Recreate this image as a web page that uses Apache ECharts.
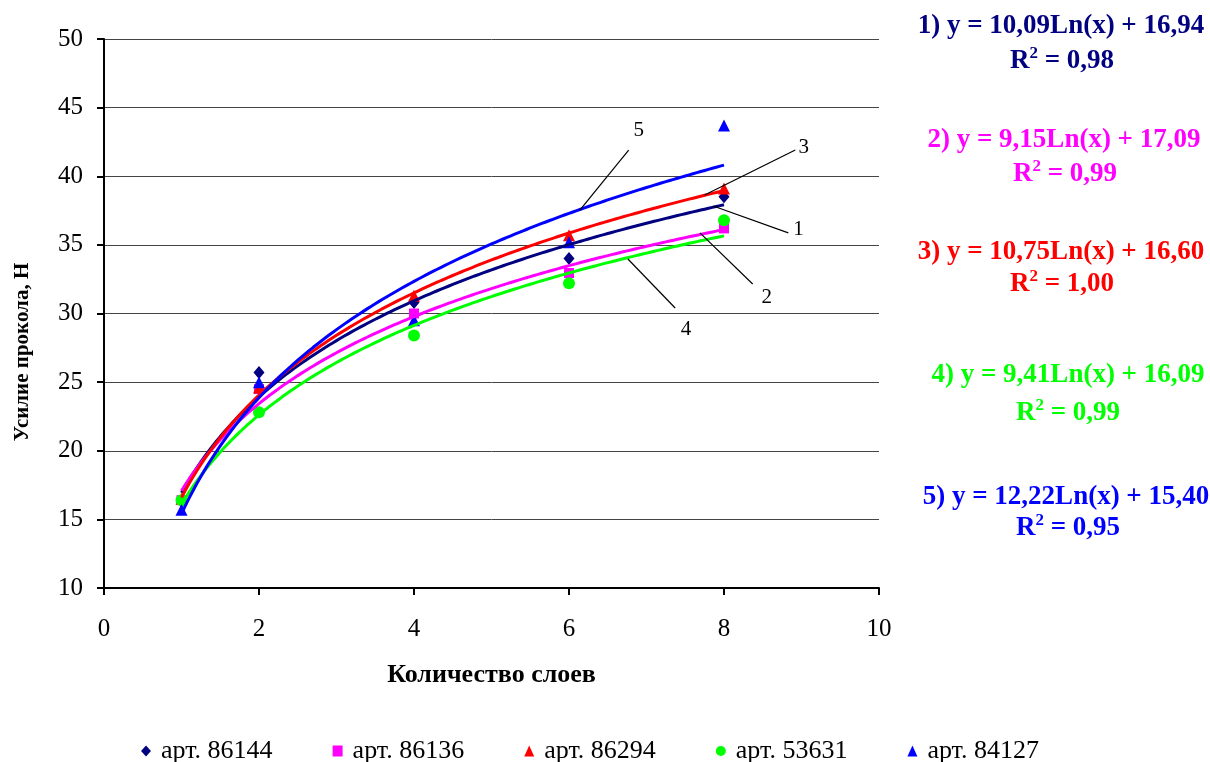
<!DOCTYPE html>
<html>
<head>
<meta charset="utf-8">
<script src="https://cdn.jsdelivr.net/npm/echarts@6/dist/echarts.min.js"></script>
<style>
  html, body { margin: 0; padding: 0; background: #fff; }
  #chart { width: 1210px; height: 762px; }
</style>
</head>
<body>
<div id="chart"></div>
<script>
// Number of layers (x) and puncture force values (y, N) for each article
const layers = [1, 2, 4, 6, 8];
const names = ['арт. 86144', 'арт. 86136', 'арт. 86294', 'арт. 53631', 'арт. 84127'];
const force86144 = [16.3, 25.7, 30.8, 34.0, 38.5];
const force86136 = [16.4, 24.5, 30.0, 32.95, 36.2];
const force86294 = [16.5, 24.6, 31.3, 35.7, 39.1];
const force53631 = [16.4, 22.8, 28.4, 32.2, 36.8];
const force84127 = [15.7, 25.0, 29.5, 35.2, 43.7];
const seriesValues = [force86144, force86136, force86294, force53631, force84127];

// Logarithmic trend lines y = a*ln(x) + b and their R^2
const trendA = [10.09, 9.15, 10.75, 9.41, 12.22];
const trendB = [16.94, 17.09, 16.60, 16.09, 15.40];
const trendR2 = ['0,98', '0,99', '1,00', '0,99', '0,95'];

const colors = ['#000080', '#ff00ff', '#ff0000', '#00ff00', '#0000ff'];
const symbols = ['diamond', 'rect', 'triangle', 'circle', 'triangle'];
const symbolSizes = [[11, 13], 10, 12, 12, 12];

const xTicks = [0, 2, 4, 6, 8, 10];
const yTicks = [10, 15, 20, 25, 30, 35, 40, 45, 50];

// Leader lines from the numeric tags to their trend curves (data space)
const leaderLines = [
  { tag: '1', from: [8.83, 35.87], to: [7.86, 37.83], text: [8.96, 36.1] },
  { tag: '2', from: [8.37, 32.15], to: [7.69, 35.87], text: [8.55, 31.2] },
  { tag: '3', from: [8.92, 41.91], to: [7.75, 38.63], text: [9.03, 42.1] },
  { tag: '4', from: [7.37, 30.40], to: [6.76, 33.97], text: [7.51, 28.8] },
  { tag: '5', from: [6.77, 41.91], to: [6.14, 37.54], text: [6.90, 43.3] }
];

const serif = '"Liberation Serif", "Times New Roman", serif';

function trendPoints(a, b) {
  const pts = [];
  for (let x = 1; x <= 8.0001; x += 0.05) {
    pts.push([x, a * Math.log(x) + b]);
  }
  return pts;
}

const series = [];
seriesValues.forEach((vals, i) => {
  series.push({
    name: names[i],
    type: 'scatter',
    data: layers.map((x, k) => [x, vals[k]]),
    symbol: symbols[i],
    symbolSize: symbolSizes[i],
    itemStyle: { color: colors[i], opacity: 1 },
    z: 3
  });
});
seriesValues.forEach((vals, i) => {
  series.push({
    name: 'trend' + (i + 1),
    type: 'line',
    data: trendPoints(trendA[i], trendB[i]),
    showSymbol: false,
    lineStyle: { color: colors[i], width: 3 },
    silent: true,
    z: 4
  });
});
series.push({
  name: 'leaders',
  type: 'line',
  data: [],
  silent: true,
  z: 5,
  markLine: {
    symbol: 'none',
    silent: true,
    animation: false,
    lineStyle: { color: '#000', width: 1.2, type: 'solid', opacity: 1 },
    label: { show: false },
    emphasis: { disabled: true },
    data: leaderLines.map(l => [{ coord: l.from }, { coord: l.to }])
  }
});
series.push({
  name: 'tags',
  type: 'scatter',
  symbolSize: 0,
  silent: true,
  z: 6,
  itemStyle: { opacity: 1 },
  data: leaderLines.map(l => ({ value: l.text, name: l.tag })),
  label: {
    show: true,
    position: 'inside',
    formatter: p => p.name,
    color: '#000',
    fontFamily: serif,
    fontSize: 21
  }
});

// Equations panel on the right
const eqY = [26, 140, 252, 375, 497];
const eqX = [1061, 1064, 1061, 1068, 1066];
const r2Y = [65, 178, 288, 417, 532];
const r2X = [1062, 1065, 1062, 1068, 1068];
const graphics = [];
trendA.forEach((a, i) => {
  const aStr = a.toFixed(2).replace('.', ',');
  const bStr = trendB[i].toFixed(2).replace('.', ',');
  graphics.push({
    type: 'text',
    x: eqX[i], y: eqY[i],
    style: {
      text: (i + 1) + ') y = ' + aStr + 'Ln(x) + ' + bStr,
      fill: colors[i],
      font: 'bold 27px ' + serif,
      align: 'center',
      verticalAlign: 'middle'
    }
  });
  graphics.push({
    type: 'text',
    x: r2X[i], y: r2Y[i] - 4,
    style: {
      align: 'center',
      verticalAlign: 'middle',
      rich: {
        r: { fill: colors[i], font: 'bold 27px ' + serif },
        s: { fill: colors[i], font: 'bold 17px ' + serif, padding: [0, 0, 14, 0] }
      },
      text: '{r|R}{s|2}{r| = ' + trendR2[i] + '}'
    }
  });
});
// Vertical axis title
graphics.push({
  type: 'text',
  x: 23, y: 352,
  rotation: Math.PI / 2,
  style: {
    text: 'Усилие прокола, Н',
    fill: '#000',
    font: 'bold 21px ' + serif,
    align: 'center',
    verticalAlign: 'middle'
  }
});

const chart = echarts.init(document.getElementById('chart'), null, { renderer: 'canvas' });
chart.setOption({
  backgroundColor: '#fff',
  animation: false,
  grid: { left: 104, right: 331, top: 39, bottom: 174, containLabel: false },
  xAxis: {
    type: 'value',
    min: xTicks[0], max: xTicks[xTicks.length - 1], interval: 2,
    name: 'Количество слоев',
    nameLocation: 'middle',
    nameGap: 74,
    nameTextStyle: { fontFamily: serif, fontSize: 26, fontWeight: 'bold', color: '#000' },
    axisLine: { lineStyle: { color: '#000', width: 2 } },
    axisTick: { show: true, inside: false, length: 7, lineStyle: { color: '#000', width: 2 } },
    axisLabel: { fontFamily: serif, fontSize: 25, color: '#000', margin: 29 },
    splitLine: { show: false }
  },
  yAxis: {
    type: 'value',
    min: yTicks[0], max: yTicks[yTicks.length - 1], interval: 5,
    axisLine: { show: true, lineStyle: { color: '#000', width: 2 } },
    axisTick: { show: true, inside: false, length: 7, lineStyle: { color: '#000', width: 2 } },
    axisLabel: { fontFamily: serif, fontSize: 25, color: '#000', margin: 21 },
    splitLine: { show: true, lineStyle: { color: '#444', width: 1 } }
  },
  legend: {
    data: names.map((n, i) => ({ name: n, icon: symbols[i] })),
    top: 733,
    left: 136,
    itemWidth: 10,
    itemHeight: 11,
    itemGap: 60,
    textStyle: { fontFamily: serif, fontSize: 26, color: '#000', padding: [0, 0, 0, 5] }
  },
  graphic: graphics,
  series: series
});
</script>
</body>
</html>
